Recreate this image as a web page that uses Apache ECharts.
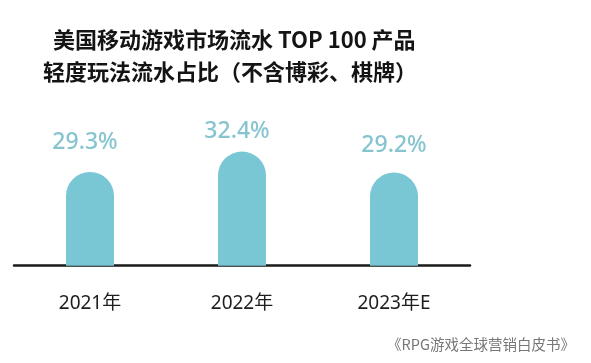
<!DOCTYPE html>
<html>
<head>
<meta charset="utf-8">
<script src="https://cdn.jsdelivr.net/npm/echarts@6/dist/echarts.min.js"></script>
<style>
html,body{margin:0;padding:0;background:#fff;}
#chart{width:591px;height:363px;}
</style>
</head>
<body>
<div id="chart"></div>
<script>
// ---- data ----
const categories = ['2021年', '2022年', '2023年E'];
const shares = [29.3, 32.4, 29.2];
const titleLines = ['美国移动游戏市场流水 TOP 100 产品', '轻度玩法流水占比（不含博彩、棋牌）'];
const sourceText = '《RPG游戏全球营销白皮书》';

// ---- styling helpers (not data) ----
const labelTweaks = [
  { distance: 18, offset: [-5, 0] },
  { distance: 9, offset: [-5, 0] },
  { distance: 16, offset: [0, 0] }
];

const chart = echarts.init(document.getElementById('chart'));
const barColor = '#79C6D4';
const labelColor = '#86C4CE';

chart.setOption({
  backgroundColor: '#ffffff',
  animation: false,
  graphic: [
    { type: 'text', left: 53, top: 29, style: { text: titleLines[0], font: 'bold 22px "Noto Sans CJK SC"', fill: '#141414' } },
    { type: 'text', left: 43, top: 61, style: { text: titleLines[1], font: 'bold 22px "Noto Sans CJK SC"', fill: '#141414' } },
    { type: 'text', right: 16, top: 337, style: { text: sourceText, font: '14.5px "Noto Sans CJK SC"', fill: '#777777' } }
  ],
  grid: { left: 14, width: 456, top: 101.7, height: 164, containLabel: false },
  xAxis: {
    type: 'category',
    data: categories,
    axisLine: { show: true, lineStyle: { color: '#1a1a1a', width: 2.5 } },
    axisTick: { show: false },
    axisLabel: { color: '#1e1e1e', fontSize: 19, fontFamily: 'Noto Sans, Noto Sans CJK SC', margin: 28 }
  },
  yAxis: {
    type: 'value',
    min: 15,
    max: 40,
    show: false,
    splitLine: { show: false }
  },
  series: [{
    type: 'bar',
    barWidth: 48,
    z: 1,
    itemStyle: { color: barColor, borderRadius: [24, 24, 0, 0] },
    label: {
      show: true,
      position: 'top',
      color: labelColor,
      fontSize: 23,
      fontWeight: 500,
      fontFamily: 'Noto Sans',
      formatter: p => p.value.toFixed(1) + '%'
    },
    data: shares.map((v, i) => ({ value: v, label: labelTweaks[i] }))
  }]
});
</script>
</body>
</html>
